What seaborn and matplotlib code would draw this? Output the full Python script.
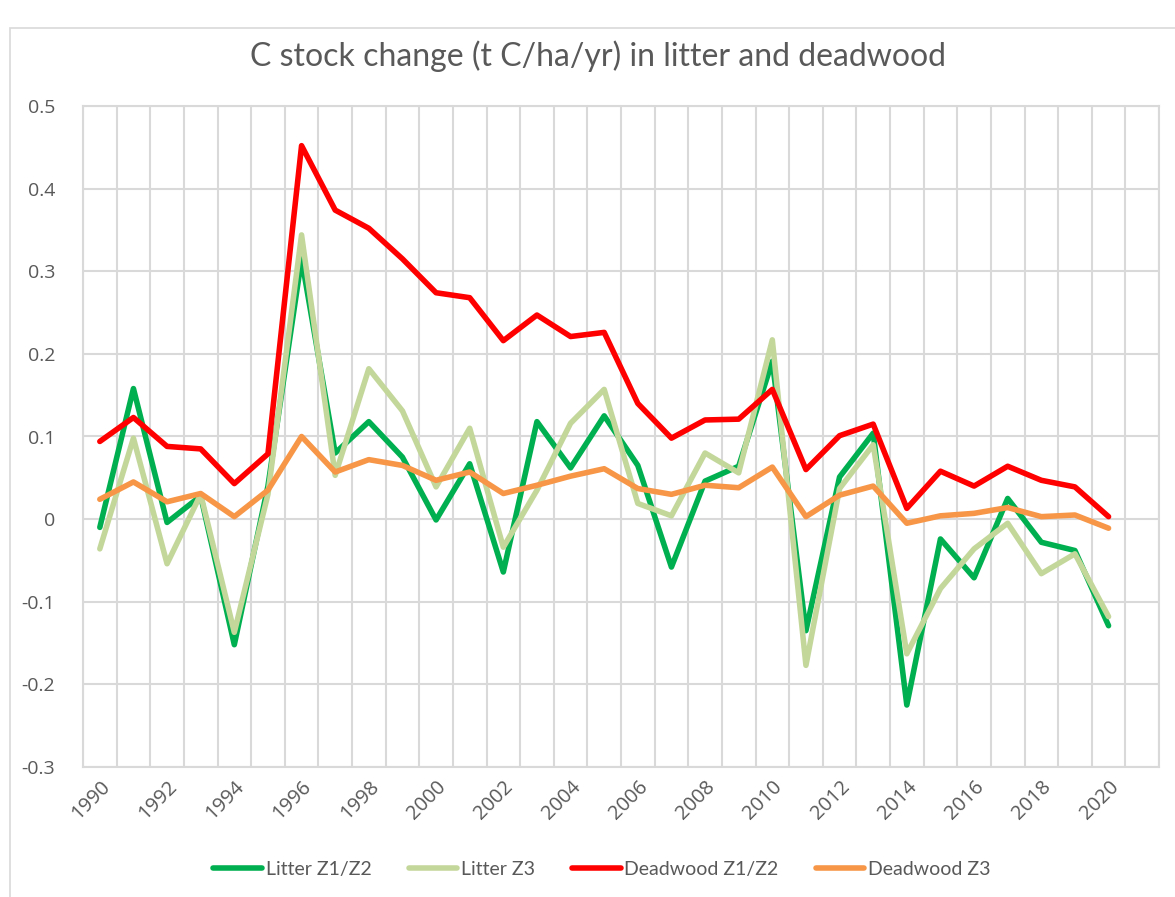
import matplotlib
matplotlib.use("Agg")
import matplotlib.pyplot as plt
import matplotlib.patches as mpatches
import numpy as np
import pandas as pd
import seaborn as sns

years = list(range(1990, 2021))

litter_z12 = [-0.010, 0.158, -0.004, 0.028, -0.152, 0.040, 0.315, 0.080, 0.118, 0.075,
              -0.001, 0.067, -0.064, 0.118, 0.062, 0.125, 0.065, -0.058, 0.046, 0.064,
              0.191, -0.135, 0.051, 0.104, -0.225, -0.024, -0.071, 0.025, -0.028, -0.038,
              -0.129]
litter_z3 = [-0.036, 0.098, -0.054, 0.030, -0.137, 0.030, 0.344, 0.053, 0.182, 0.131,
             0.039, 0.110, -0.034, 0.035, 0.116, 0.157, 0.019, 0.004, 0.080, 0.056,
             0.217, -0.177, 0.037, 0.090, -0.163, -0.084, -0.036, -0.005, -0.066, -0.042,
             -0.118]
deadwood_z12 = [0.094, 0.123, 0.088, 0.085, 0.043, 0.079, 0.452, 0.374, 0.352, 0.315,
                0.274, 0.268, 0.216, 0.247, 0.221, 0.226, 0.140, 0.098, 0.120, 0.121,
                0.157, 0.060, 0.101, 0.115, 0.013, 0.058, 0.040, 0.064, 0.047, 0.039,
                0.003]
deadwood_z3 = [0.024, 0.045, 0.021, 0.031, 0.003, 0.035, 0.100, 0.057, 0.072, 0.065,
               0.047, 0.057, 0.031, 0.041, 0.052, 0.061, 0.037, 0.030, 0.041, 0.038,
               0.063, 0.003, 0.029, 0.040, -0.005, 0.004, 0.007, 0.014, 0.003, 0.005,
               -0.011]

series_names = ["Litter Z1/Z2", "Litter Z3", "Deadwood Z1/Z2", "Deadwood Z3"]
series_values = [litter_z12, litter_z3, deadwood_z12, deadwood_z3]
series_colors = ["#00B050", "#C4D79B", "#FF0000", "#F79646"]

y_ticks = [-0.3, -0.2, -0.1, 0, 0.1, 0.2, 0.3, 0.4, 0.5]
y_tick_labels = ["-0.3", "-0.2", "-0.1", "0", "0.1", "0.2", "0.3", "0.4", "0.5"]
x_tick_years = list(range(1990, 2021, 2))

df = pd.concat(
    [pd.DataFrame({"year": years, "value": vals, "series": name})
     for name, vals in zip(series_names, series_values)],
    ignore_index=True,
)

sns.set_theme(style="white")
plt.rcParams["font.family"] = ["Open Sans", "DejaVu Sans"]

W, H = 1175, 897
fig = plt.figure(figsize=(W / 100, H / 100), dpi=100)
ax = fig.add_axes([83 / W, (H - 767) / H, (1159 - 83) / W, (767 - 106) / H])

grid_col = "#D9D9D9"
text_col = "#595959"

sns.lineplot(data=df, x="year", y="value", hue="series", hue_order=series_names,
             palette=dict(zip(series_names, series_colors)), linewidth=4.0,
             ax=ax, legend=False, zorder=3)
for line in ax.get_lines():
    line.set_solid_joinstyle("round")
    line.set_solid_capstyle("round")

ax.set_xlim(1989.5, 2021.5)
ax.set_ylim(-0.3, 0.5)
ax.set_xticks(x_tick_years)
ax.set_xticklabels([str(y) for y in x_tick_years], rotation=45, ha="right",
                   va="top", rotation_mode="anchor", fontsize=14.5, color=text_col)
ax.set_xticks(np.arange(1989.5, 2022, 1.0), minor=True)
ax.set_yticks(y_ticks)
ax.set_yticklabels(y_tick_labels, fontsize=14, color=text_col)
ax.tick_params(axis="both", which="both", length=0)
ax.tick_params(axis="x", pad=7)
ax.tick_params(axis="y", pad=20)
ax.grid(True, which="minor", axis="x", color=grid_col, lw=1.5)
ax.grid(True, which="major", axis="y", color=grid_col, lw=1.5)
ax.grid(False, which="major", axis="x")
for sp in ax.spines.values():
    sp.set_color(grid_col)
    sp.set_linewidth(1.5)
ax.set_xlabel("")
ax.set_ylabel("")

fig.text(598 / W, 1 - 56 / H, "C stock change (t C/ha/yr) in litter and deadwood",
         ha="center", va="center", fontsize=23, color=text_col,
         family=["Lato", "DejaVu Sans"])

handles = [plt.Line2D([], [], color=c, lw=4.0, solid_capstyle="round") for c in series_colors]
fig.legend(handles, series_names, loc="center", bbox_to_anchor=(602 / W, 1 - 869 / H),
           ncol=4, frameon=False, handlelength=2.5, handletextpad=0.2,
           columnspacing=1.9, labelcolor=text_col,
           prop={"family": ["Lato", "DejaVu Sans"], "size": 14})

fig.patches.append(mpatches.Rectangle((10 / W, -0.1), 1.2, (H - 28) / H + 0.1,
                                      transform=fig.transFigure, fill=False,
                                      edgecolor=grid_col, lw=1.2))

fig.savefig("out.png", dpi=100, facecolor="white")
